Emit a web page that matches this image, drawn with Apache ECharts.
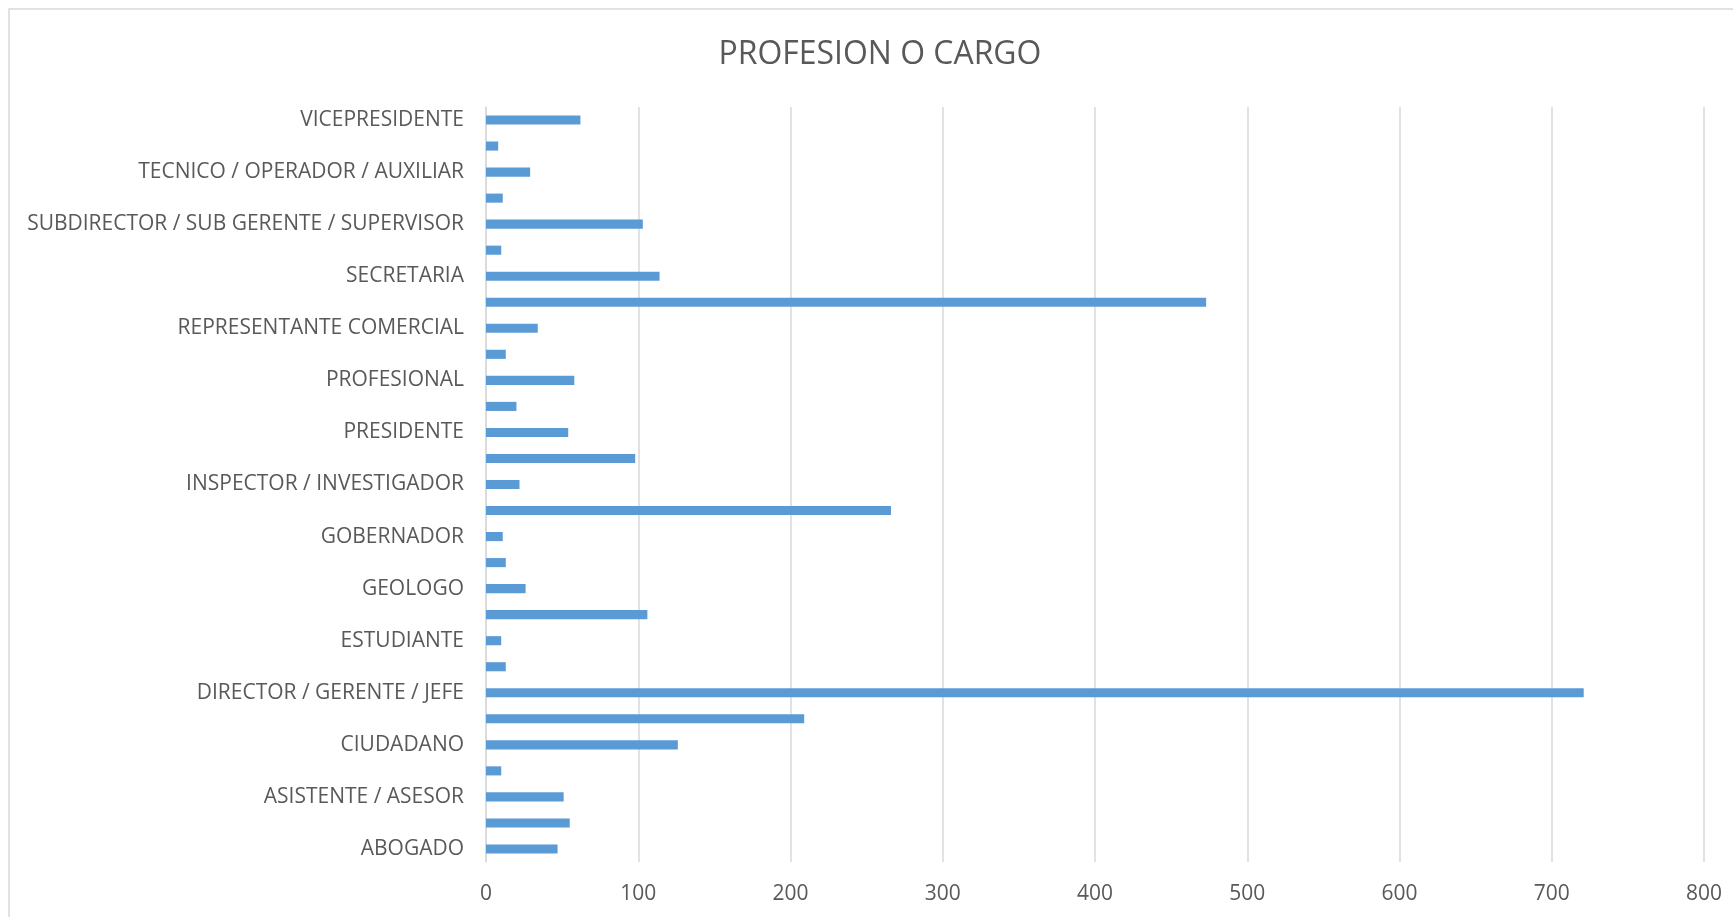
<!DOCTYPE html>
<html>
<head>
<meta charset="utf-8">
<script src="https://cdn.jsdelivr.net/npm/echarts@6/dist/echarts.min.js"></script>
<style>
html,body{margin:0;padding:0;background:#fff;}
#chart{width:1733px;height:917px;}
</style>
</head>
<body>
<div id="chart"></div>
<script>
// Categories, bottom to top (every other label is shown on the axis)
const categories = [
  "ABOGADO", "ADMINISTRADOR", "ASISTENTE / ASESOR", "AUDITOR", "CIUDADANO",
  "CONTRATISTA", "DIRECTOR / GERENTE / JEFE", "DOCENTE", "ESTUDIANTE", "FUNCIONARIO",
  "GEOLOGO", "GESTOR", "GOBERNADOR", "INGENIERO", "INSPECTOR / INVESTIGADOR",
  "OTRO", "PRESIDENTE", "PRESIDENTE EJECUTIVO", "PROFESIONAL", "PROFESOR",
  "REPRESENTANTE COMERCIAL", "REPRESENTANTE LEGAL", "SECRETARIA", "SECRETARIO",
  "SUBDIRECTOR / SUB GERENTE / SUPERVISOR", "SUPERINTENDENTE", "TECNICO / OPERADOR / AUXILIAR",
  "TOPOGRAFO", "VICEPRESIDENTE"
];
const values = [
  47, 55, 51, 10, 126,
  209, 721, 13, 10, 106,
  26, 13, 11, 266, 22,
  98, 54, 20, 58, 13,
  34, 473, 114, 10, 103,
  11, 29, 8, 62
];
const xTicks = { min: 0, max: 800, interval: 100 };
const titleText = "PROFESION O CARGO";

const FAMILY = "'Open Sans', 'Noto Sans', sans-serif";
function fitSize(text, target) {
  const ctx = document.createElement('canvas').getContext('2d');
  ctx.font = '100px ' + FAMILY;
  return 100 * target / ctx.measureText(text).width;
}
const catSize = fitSize("SUBDIRECTOR / SUB GERENTE / SUPERVISOR", 437);
const tickSize = fitSize("800", 36);
const titleSize = fitSize(titleText, 323);

const chart = echarts.init(document.getElementById('chart'));
chart.setOption({
  animation: false,
  backgroundColor: '#ffffff',
  textStyle: { fontFamily: FAMILY },
  graphic: [
    {
      type: 'rect', silent: true, z: -10,
      shape: { x: 9, y: 9, width: 2000, height: 2000 },
      style: { fill: 'none', stroke: '#d9d9d9', lineWidth: 1.5 }
    },
    {
      type: 'text', x: 880, y: 55,
      style: {
        text: titleText, fill: '#595959', fontFamily: FAMILY,
        fontSize: titleSize, align: 'center', verticalAlign: 'middle'
      }
    }
  ],
  grid: { left: 486, right: 29, top: 107, bottom: 55, containLabel: false },
  xAxis: {
    type: 'value',
    min: xTicks.min, max: xTicks.max, interval: xTicks.interval,
    axisLine: { show: false },
    axisTick: { show: false },
    axisLabel: { color: '#595959', fontSize: tickSize, margin: 22, fontFamily: FAMILY },
    splitLine: { show: true, lineStyle: { color: '#d9d9d9', width: 1.5 } }
  },
  yAxis: {
    type: 'category',
    data: categories,
    axisLine: { show: true, lineStyle: { color: '#d9d9d9', width: 1.5 } },
    axisTick: { show: false },
    axisLabel: { interval: 1, color: '#595959', fontSize: catSize, margin: 22, fontFamily: FAMILY, padding: [4, 0, 0, 0] }
  },
  series: [{
    type: 'bar',
    data: values,
    barCategoryGap: '65%',
    itemStyle: { color: '#5b9bd5' }
  }]
});
</script>
</body>
</html>
